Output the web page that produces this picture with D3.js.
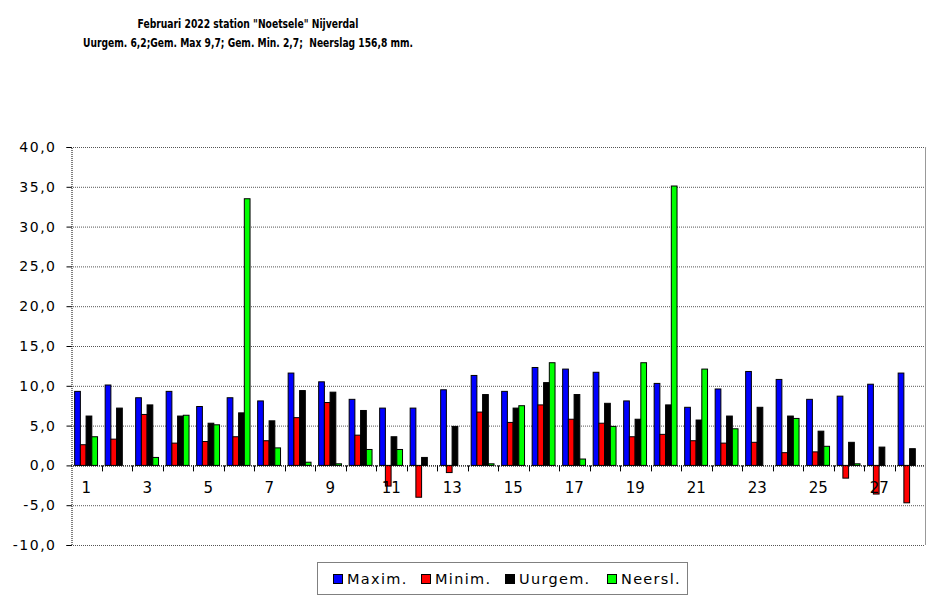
<!DOCTYPE html>
<html><head><meta charset="utf-8">
<script src="https://cdnjs.cloudflare.com/ajax/libs/d3/7.8.5/d3.min.js"></script>
<style>body{margin:0;background:#fff}svg{display:block}</style>
</head><body>
<svg id="c" width="943" height="598"></svg>
<script>
const days = d3.range(1, 29);
const seriesNames = ["Maxim.", "Minim.", "Uurgem.", "Neersl."];
const seriesColors = ["#0000ff", "#ff0000", "#000000", "#00ff00"];
const maxim = [9.3,10.1,8.5,9.3,7.4,8.5,8.1,11.6,10.5,8.3,7.2,7.2,9.5,11.3,9.3,12.3,12.1,11.7,8.1,10.3,7.3,9.6,11.8,10.8,8.3,8.7,10.2,11.6];
const minim = [2.6,3.3,6.4,2.8,3.0,3.6,3.1,6.0,7.9,3.8,-2.6,-4.0,-0.9,6.7,5.4,7.6,5.8,5.3,3.6,3.9,3.1,2.8,2.9,1.6,1.7,-1.6,-3.6,-4.7];
const uurgem = [6.2,7.2,7.6,6.2,5.3,6.6,5.6,9.4,9.2,6.9,3.6,1.0,4.9,8.9,7.2,10.4,8.9,7.8,5.8,7.6,5.7,6.2,7.3,6.2,4.3,2.9,2.3,2.1];
const neersl = [3.6,0,1.0,6.3,5.1,33.5,2.2,0.4,0.2,2.0,2.0,0,0,0.2,7.5,12.9,0.8,4.9,12.9,35.1,12.1,4.6,0,5.9,2.4,0.2,0,0];
const yTicks = [-10,-5,0,5,10,15,20,25,30,35,40];
const titleLines = ['Februari 2022 station "Noetsele" Nijverdal', 'Uurgem. 6,2;Gem. Max 9,7; Gem. Min. 2,7;  Neerslag 156,8 mm.'];

const seriesValues = [maxim, minim, uurgem, neersl];
const svg = d3.select("#c");
const L = 71, R = 925, T = 147, B = 545;
const y = d3.scaleLinear().domain([-10, 40]).range([B, T]);
const x = d3.scaleBand().domain(days).range([L, R]).padding(0);
const bw = x.bandwidth();
const xs = d3.scaleBand().domain(d3.range(4)).range([bw*0.12, bw*0.87]).padding(0);
const loc = d3.formatLocale({decimal: ",", thousands: ".", grouping: [3], currency: ["", ""], minus: "-"});
const fmt = loc.format(".1f");
const FONT = "DejaVu Sans, Verdana, sans-serif";

// gridlines
svg.append("g").selectAll("line").data(yTicks).join("line")
  .attr("x1", L).attr("x2", R).attr("y1", d => y(d)+0.5).attr("y2", d => y(d)+0.5)
  .attr("stroke", "#555").attr("stroke-width", 1).attr("stroke-dasharray", "1,1");
// right border
svg.append("line").attr("x1", R+0.5).attr("x2", R+0.5).attr("y1", T).attr("y2", B)
  .attr("stroke", "#999");

// bars
const g = svg.append("g");
seriesValues.forEach((vals, si) => {
  g.selectAll(null).data(vals).join("rect")
    .attr("x", (d, i) => x(days[i]) + xs(si))
    .attr("width", xs.bandwidth())
    .attr("y", d => y(Math.max(0, d)))
    .attr("height", d => Math.abs(y(d) - y(0)))
    .attr("fill", seriesColors[si])
    .attr("stroke", d => d === 0 ? "none" : "#000")
    .attr("stroke-width", 1);
});

// y axis
const ya = svg.append("g").attr("transform", `translate(${L+0.5},0)`)
  .call(d3.axisLeft(y).tickValues(yTicks).tickFormat(fmt).tickSize(5).tickPadding(10));
ya.select(".domain").attr("stroke", "#000").attr("stroke-dasharray", "1,1");
ya.selectAll(".tick line").attr("stroke", "#000");
ya.selectAll("text").attr("font-family", FONT)
  .attr("font-size", 14).attr("letter-spacing", "1.5px").attr("fill", "#000");

// x axis: tick marks at boundaries along zero line
const zx = svg.append("g");
zx.append("line").attr("x1", L).attr("x2", R).attr("y1", y(0)+0.5).attr("y2", y(0)+0.5)
  .attr("stroke", "#000").attr("stroke-dasharray", "1,1");
zx.selectAll("line.t").data(days.slice(1)).join("line").attr("class","t")
  .attr("x1", d => Math.round(x(d))+0.5).attr("x2", d => Math.round(x(d))+0.5)
  .attr("y1", y(0)).attr("y2", y(0)+6).attr("stroke", "#000");
zx.selectAll("text").data(days.filter(d => d % 2 === 1)).join("text")
  .attr("x", d => x(d) + bw/2).attr("y", 493)
  .attr("text-anchor", "middle").attr("font-family", FONT)
  .attr("font-size", 15).text(d => d);

// title
svg.selectAll("text.title").data(titleLines).join("text").attr("class", "title")
  .attr("x", 248).attr("y", (d, i) => 28 + i*19).attr("text-anchor", "middle")
  .attr("font-family", FONT).attr("font-weight", "bold")
  .attr("font-size", 12.5).style("white-space", "pre")
  .attr("textLength", (d, i) => i === 0 ? 221 : 330).attr("lengthAdjust", "spacingAndGlyphs")
  .text(d => d);

// legend
const lg = svg.append("g");
lg.append("rect").attr("x", 317.5).attr("y", 562.5).attr("width", 370).attr("height", 32)
  .attr("fill", "#fff").attr("stroke", "#000").attr("stroke-dasharray", "1,1");
const legX = [333, 421, 505, 607];
seriesNames.forEach((n, i) => {
  lg.append("rect").attr("x", legX[i]+0.5).attr("y", 574.5).attr("width", 9).attr("height", 9)
    .attr("fill", seriesColors[i]).attr("stroke", "#000");
  lg.append("text").attr("x", legX[i] + 14).attr("y", 584)
    .attr("font-family", FONT).attr("font-size", 14.5).attr("letter-spacing", "1.3px").text(n);
});
</script>
</body></html>
